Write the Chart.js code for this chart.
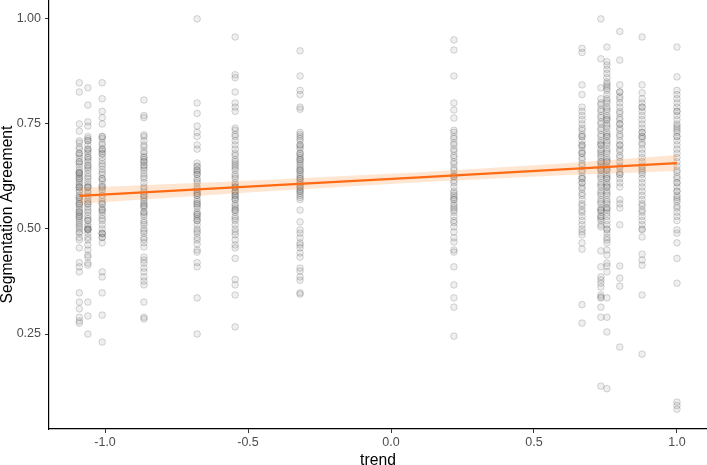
<!DOCTYPE html>
<html>
<head>
<meta charset="utf-8">
<script src="https://cdn.jsdelivr.net/npm/chart.js@4/dist/chart.umd.min.js"></script>
<style>
  html, body { margin: 0; padding: 0; background: #fff; }
</style>
</head>
<body>
<canvas id="myChart" width="707" height="465"></canvas>
<script>
// trend levels (x) and the agreement values observed at each of them
const trend_levels = [-1.09, -1.06, -1.01, -0.864, -0.678, -0.545, -0.318, 0.22, 0.668, 0.734, 0.755, 0.80, 0.878, 1.0];

const agree_a = [0.848,0.826,0.75,0.733,0.71,0.705,0.695,0.69,0.68,0.675,0.668,0.66,0.655,0.648,0.64,0.635,0.633,0.63,0.625,0.62,0.615,0.61,0.605,0.60,0.598,0.592,0.588,0.58,0.575,0.57,0.565,0.56,0.556,0.55,0.545,0.54,0.535,0.53,0.525,0.52,0.515,0.51,0.505,0.50,0.493,0.49,0.48,0.474,0.455,0.42,0.41,0.398,0.348,0.326,0.31,0.29,0.281,0.276,0.633,0.62,0.60,0.575,0.56,0.54,0.53,0.68,0.66];
const agree_b = [0.836,0.795,0.755,0.745,0.72,0.715,0.71,0.70,0.69,0.685,0.68,0.672,0.665,0.66,0.652,0.645,0.64,0.632,0.625,0.62,0.612,0.605,0.60,0.598,0.59,0.585,0.578,0.57,0.565,0.56,0.552,0.545,0.54,0.532,0.525,0.52,0.51,0.505,0.50,0.498,0.49,0.48,0.474,0.462,0.45,0.438,0.433,0.419,0.414,0.326,0.293,0.25,0.71,0.69,0.67,0.65,0.60,0.56,0.52,0.50,0.498];
const agree_c = [0.848,0.81,0.78,0.765,0.75,0.72,0.715,0.705,0.70,0.69,0.685,0.678,0.67,0.662,0.655,0.65,0.642,0.635,0.63,0.62,0.615,0.605,0.60,0.595,0.59,0.58,0.572,0.565,0.56,0.55,0.545,0.54,0.532,0.525,0.52,0.51,0.50,0.49,0.488,0.48,0.467,0.398,0.386,0.348,0.295,0.231,0.72,0.69,0.68,0.62,0.60,0.56,0.545,0.49,0.48];
const agree_d = [0.807,0.77,0.765,0.724,0.72,0.71,0.70,0.695,0.685,0.68,0.672,0.665,0.66,0.652,0.645,0.64,0.632,0.625,0.62,0.61,0.60,0.595,0.588,0.58,0.575,0.57,0.565,0.56,0.555,0.55,0.54,0.535,0.53,0.52,0.515,0.51,0.50,0.495,0.49,0.48,0.475,0.467,0.457,0.433,0.426,0.419,0.407,0.398,0.386,0.376,0.367,0.326,0.29,0.286,0.67,0.66,0.65,0.58,0.555,0.54];
const agree_e = [1.00,0.80,0.775,0.745,0.73,0.72,0.70,0.69,0.657,0.65,0.648,0.64,0.635,0.63,0.62,0.615,0.61,0.60,0.595,0.59,0.585,0.58,0.57,0.565,0.56,0.555,0.55,0.54,0.535,0.53,0.525,0.52,0.51,0.50,0.495,0.49,0.48,0.474,0.464,0.45,0.445,0.42,0.41,0.336,0.25,0.64,0.63,0.585,0.58,0.56,0.535,0.52];
const agree_f = [0.957,0.867,0.86,0.826,0.80,0.79,0.78,0.74,0.735,0.725,0.72,0.71,0.70,0.69,0.68,0.675,0.665,0.66,0.655,0.65,0.645,0.64,0.63,0.625,0.62,0.61,0.605,0.60,0.598,0.59,0.585,0.58,0.575,0.57,0.56,0.555,0.55,0.545,0.54,0.53,0.525,0.52,0.51,0.50,0.493,0.486,0.474,0.462,0.455,0.43,0.38,0.367,0.343,0.267,0.60,0.59,0.58,0.57,0.545];
const agree_g = [0.924,0.864,0.83,0.82,0.79,0.785,0.73,0.725,0.715,0.71,0.70,0.695,0.69,0.68,0.675,0.67,0.665,0.66,0.655,0.65,0.645,0.64,0.635,0.63,0.625,0.62,0.615,0.61,0.605,0.60,0.595,0.59,0.585,0.58,0.575,0.57,0.545,0.517,0.498,0.49,0.479,0.467,0.462,0.455,0.443,0.433,0.407,0.40,0.386,0.378,0.348,0.345,0.72,0.70,0.68,0.665,0.64,0.62,0.60,0.59];
const agree_h = [0.95,0.926,0.864,0.80,0.783,0.764,0.735,0.73,0.72,0.715,0.705,0.70,0.69,0.685,0.675,0.67,0.66,0.655,0.645,0.64,0.63,0.625,0.615,0.61,0.60,0.59,0.585,0.575,0.57,0.56,0.555,0.545,0.54,0.53,0.52,0.515,0.505,0.493,0.479,0.469,0.45,0.445,0.41,0.367,0.336,0.314,0.245,0.625,0.58,0.57,0.55];
const agree_i = [0.93,0.92,0.843,0.82,0.79,0.78,0.77,0.76,0.75,0.74,0.735,0.725,0.72,0.71,0.70,0.695,0.685,0.68,0.67,0.665,0.655,0.65,0.64,0.635,0.625,0.62,0.61,0.60,0.595,0.585,0.58,0.57,0.56,0.555,0.545,0.54,0.53,0.52,0.51,0.50,0.493,0.486,0.467,0.452,0.32,0.276,0.72,0.70,0.68,0.62,0.61];
const agree_j = [1.00,0.905,0.836,0.81,0.80,0.795,0.785,0.78,0.77,0.765,0.755,0.75,0.74,0.735,0.725,0.72,0.71,0.705,0.70,0.69,0.685,0.675,0.67,0.66,0.655,0.65,0.645,0.64,0.63,0.625,0.62,0.61,0.605,0.60,0.59,0.585,0.58,0.57,0.565,0.56,0.55,0.545,0.54,0.53,0.525,0.52,0.51,0.505,0.448,0.41,0.386,0.379,0.371,0.362,0.343,0.338,0.336,0.314,0.29,0.126,0.70,0.68,0.66,0.64,0.545,0.53];
const agree_k = [0.933,0.898,0.89,0.88,0.87,0.86,0.85,0.845,0.835,0.83,0.82,0.81,0.805,0.80,0.79,0.785,0.78,0.77,0.765,0.76,0.75,0.745,0.74,0.73,0.725,0.72,0.71,0.705,0.70,0.69,0.685,0.68,0.67,0.665,0.66,0.65,0.645,0.64,0.63,0.625,0.62,0.61,0.605,0.60,0.59,0.585,0.58,0.57,0.565,0.56,0.55,0.545,0.538,0.53,0.52,0.51,0.50,0.498,0.49,0.48,0.474,0.467,0.45,0.438,0.419,0.412,0.398,0.336,0.29,0.255,0.12,0.84,0.76,0.72,0.66,0.64,0.62,0.60,0.55];
const agree_l = [0.97,0.902,0.843,0.826,0.815,0.81,0.80,0.79,0.78,0.775,0.765,0.76,0.75,0.74,0.735,0.725,0.72,0.71,0.70,0.69,0.685,0.675,0.67,0.66,0.65,0.645,0.635,0.63,0.62,0.61,0.60,0.57,0.56,0.55,0.51,0.412,0.383,0.364,0.219,0.826,0.75,0.70,0.63];
const agree_m = [0.957,0.843,0.824,0.81,0.80,0.79,0.78,0.77,0.76,0.75,0.74,0.73,0.72,0.715,0.705,0.70,0.69,0.68,0.67,0.66,0.65,0.645,0.635,0.63,0.62,0.61,0.60,0.59,0.58,0.57,0.56,0.555,0.545,0.54,0.53,0.52,0.51,0.50,0.498,0.481,0.44,0.426,0.414,0.343,0.202,0.79,0.73,0.72,0.64];
const agree_n = [0.933,0.862,0.83,0.82,0.81,0.80,0.79,0.78,0.77,0.76,0.75,0.745,0.735,0.73,0.72,0.71,0.70,0.69,0.68,0.67,0.66,0.65,0.64,0.635,0.625,0.62,0.61,0.60,0.59,0.58,0.57,0.565,0.555,0.55,0.54,0.53,0.52,0.498,0.49,0.467,0.43,0.371,0.088,0.08,0.071,0.78,0.74,0.72,0.61,0.59,0.575];

const agree_by_level = [agree_a, agree_b, agree_c, agree_d, agree_e, agree_f, agree_g, agree_h, agree_i, agree_j, agree_k, agree_l, agree_m, agree_n];

// fitted line with its confidence band
const fit_x = [-1.09, -0.5, 0.1, 0.6, 1.0];
const fit_y = [0.579, 0.601, 0.623, 0.642, 0.657];
const fit_upper = [0.598, 0.615, 0.635, 0.656, 0.676];
const fit_lower = [0.560, 0.587, 0.611, 0.628, 0.638];

// axis ticks
const x_ticks = [-1.0, -0.5, 0.0, 0.5, 1.0];
const x_tick_labels = ['-1.0', '-0.5', '0.0', '0.5', '1.0'];
const y_ticks = [0.25, 0.50, 0.75, 1.00];
const y_tick_labels = ['0.25', '0.50', '0.75', '1.00'];

function make_points(){
    let pts = [];
    for (let i = 0; i < trend_levels.length; i++){
        for (let j = 0; j < agree_by_level[i].length; j++){
            pts.push({x: trend_levels[i], y: agree_by_level[i][j]});
        }
    }
    return pts;
}
function make_xy(xs, ys){
    let out = [];
    for (let i = 0; i < xs.length; i++){
        out.push({x: xs[i], y: ys[i]});
    }
    return out;
}
function no_padding(scale){
    scale.paddingTop = 0;
    scale.paddingBottom = 0;
    scale.paddingLeft = 0;
    scale.paddingRight = 0;
}

const font_family = '"Liberation Sans", Arial, sans-serif';
const tick_font = {family: font_family, size: 12.5};

const ctx = document.getElementById('myChart').getContext('2d');
const myChart = new Chart(ctx, {
    type: 'scatter',
    data: {
        datasets: [
            {
                label: 'fit',
                data: make_xy(fit_x, fit_y),
                showLine: true,
                borderColor: '#ff6a13',
                borderWidth: 2.2,
                pointRadius: 0,
                fill: false,
                order: 0
            },
            {
                label: 'upper',
                data: make_xy(fit_x, fit_upper),
                showLine: true,
                borderWidth: 0,
                borderColor: 'rgba(0,0,0,0)',
                backgroundColor: 'rgba(255, 140, 50, 0.22)',
                pointRadius: 0,
                fill: '+1',
                order: 1
            },
            {
                label: 'lower',
                data: make_xy(fit_x, fit_lower),
                showLine: true,
                borderWidth: 0,
                borderColor: 'rgba(0,0,0,0)',
                pointRadius: 0,
                fill: false,
                order: 2
            },
            {
                label: 'points',
                data: make_points(),
                pointRadius: 3.3,
                pointBorderWidth: 1,
                pointBackgroundColor: 'rgba(100,100,100,0.1)',
                pointBorderColor: 'rgba(80,80,80,0.23)',
                order: 3
            }
        ]
    },
    options: {
        responsive: false,
        animation: false,
        devicePixelRatio: 1,
        layout: {padding: 0, autoPadding: false},
        plugins: {
            legend: {display: false},
            tooltip: {enabled: false}
        },
        scales: {
            x: {
                type: 'linear',
                min: -1.196,
                max: 1.105,
                afterBuildTicks: function(scale){
                    scale.ticks = x_ticks.map(v => ({value: v}));
                },
                afterFit: function(scale){
                    scale.height = 36;
                    no_padding(scale);
                },
                ticks: {
                    color: '#4d4d4d',
                    font: tick_font,
                    padding: 2,
                    maxRotation: 0,
                    callback: function(value, index){
                        return x_tick_labels[index];
                    }
                },
                grid: {
                    display: true,
                    drawOnChartArea: false,
                    drawTicks: true,
                    tickLength: 4,
                    color: '#333333'
                },
                border: {display: true, color: '#000000', width: 1.2},
                title: {
                    display: true,
                    text: 'trend',
                    color: '#000000',
                    font: {family: font_family, size: 15.7, lineHeight: 0.5},
                    padding: 0
                }
            },
            y: {
                type: 'linear',
                min: 0.024,
                max: 1.045,
                afterBuildTicks: function(scale){
                    scale.ticks = y_ticks.map(v => ({value: v}));
                },
                afterFit: function(scale){
                    scale.width = 49;
                    no_padding(scale);
                },
                ticks: {
                    color: '#4d4d4d',
                    font: tick_font,
                    padding: 4,
                    callback: function(value, index){
                        return y_tick_labels[index];
                    }
                },
                grid: {
                    display: true,
                    drawOnChartArea: false,
                    drawTicks: true,
                    tickLength: 4,
                    color: '#333333'
                },
                border: {display: true, color: '#000000', width: 1.2},
                title: {
                    display: true,
                    text: 'Segmentation Agreement',
                    color: '#000000',
                    font: {family: font_family, size: 15.7, lineHeight: 1},
                    padding: 0
                }
            }
        }
    }
});
</script>
</body>
</html>
